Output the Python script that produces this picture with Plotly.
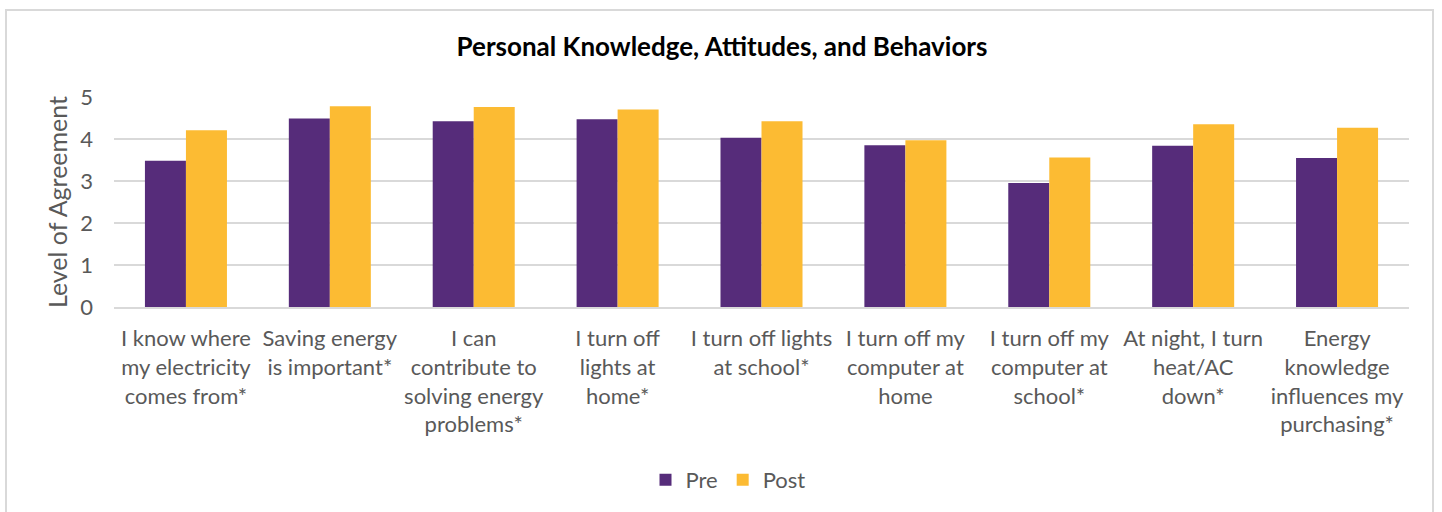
import plotly.graph_objects as go

categories = [
    "I know where<br>my electricity<br>comes from*",
    "Saving energy<br>is important*",
    "I can<br>contribute to<br>solving energy<br>problems*",
    "I turn off<br>lights at<br>home*",
    "I turn off lights<br>at school*",
    "I turn off my<br>computer at<br>home",
    "I turn off my<br>computer at<br>school*",
    "At night, I turn<br>heat/AC<br>down*",
    "Energy<br>knowledge<br>influences my<br>purchasing*",
]
pre = [3.48, 4.49, 4.42, 4.47, 4.03, 3.85, 2.95, 3.84, 3.55]
post = [4.21, 4.78, 4.76, 4.70, 4.42, 3.97, 3.56, 4.35, 4.27]
y_ticks = [0, 1, 2, 3, 4, 5]

FONT = "Lato, 'Open Sans', sans-serif"
W, H = 1442, 512
ML, MR, MT, MB = 114, 33, 97, 205
pw, ph = W - ML - MR, H - MT - MB

fig = go.Figure()
fig.add_trace(go.Bar(name="Pre", x=categories, y=pre, marker_color="#562C7A",
                     marker_line_width=0))
fig.add_trace(go.Bar(name="Post", x=categories, y=post, marker_color="#FCBB33",
                     marker_line_width=0))

def px_x(x):
    return (x - ML) / pw

def px_y(y):
    return (H - MB - y) / ph

fig.update_layout(
    width=W, height=H,
    margin=dict(l=ML, r=MR, t=MT, b=MB, autoexpand=False),
    paper_bgcolor="white", plot_bgcolor="white",
    barmode="group", bargap=0.43, bargroupgap=0,
    font=dict(family=FONT, color="#595959", size=22),
    title=dict(text="<b>Personal Knowledge, Attitudes, and Behaviors</b>",
               x=px_x(722), xref="paper", xanchor="center", y=1 - 47 / H,
               yanchor="middle",
               font=dict(family=FONT, size=26, color="black")),
    xaxis=dict(showgrid=False, showline=True, linecolor="#D9D9D9", linewidth=2,
               ticks="", ticklabelstandoff=11,
               tickfont=dict(size=22, color="#595959"),
               automargin=False),
    yaxis=dict(range=[0, 5], tickvals=y_ticks, showgrid=True, gridcolor="#D9D9D9",
               gridwidth=2, zeroline=False, showline=False, ticks="",
               ticklabelstandoff=20,
               tickfont=dict(size=22, color="#595959"),
               title=dict(text="Level of Agreement", standoff=5,
                          font=dict(size=25, color="#595959")),
               automargin=False),
    legend=dict(orientation="h", x=px_x(728), xanchor="center", y=px_y(480),
                yanchor="middle", font=dict(size=22, color="#595959"),
                itemwidth=30, traceorder="normal"),
    shapes=[dict(type="rect", xref="paper", yref="paper",
                 x0=px_x(6), x1=px_x(1433), y0=px_y(530), y1=px_y(10),
                 line=dict(color="#D9D9D9", width=2), layer="below")],
)

fig.write_html("out.html",
               config={"displayModeBar": False},
               post_script="document.body.style.margin='0';"
                           "document.body.style.overflow='hidden';")
